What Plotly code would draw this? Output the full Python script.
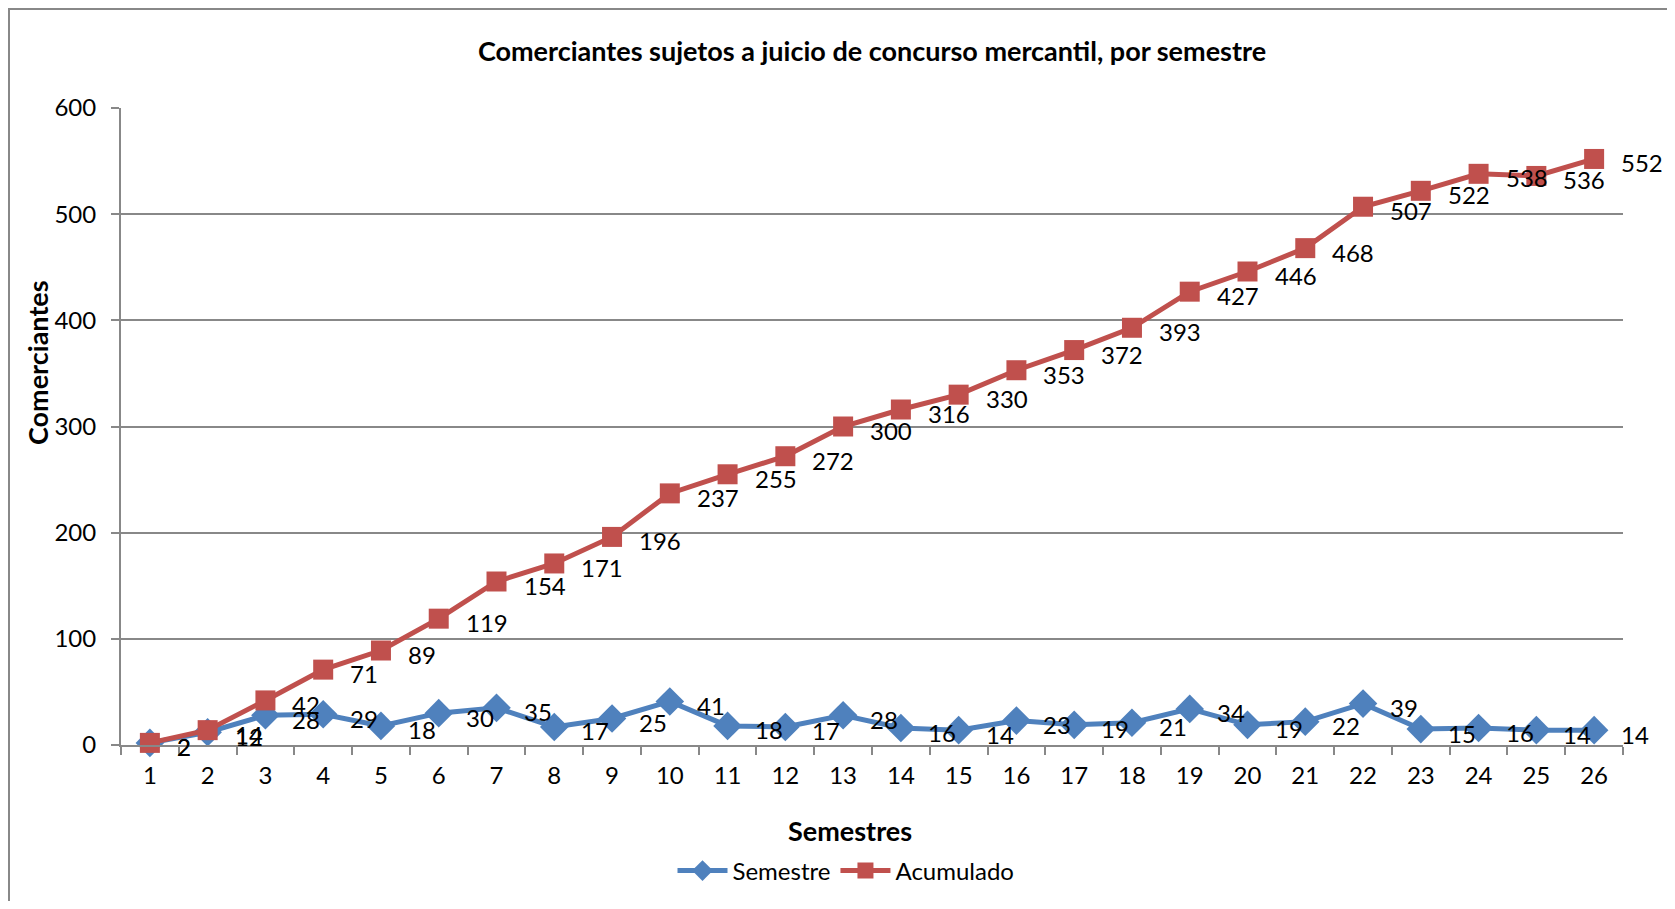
import plotly.graph_objects as go

semestres = [str(i) for i in range(1, 27)]
semestre_vals = [2, 12, 28, 29, 18, 30, 35, 17, 25, 41, 18, 17, 28, 16, 14, 23, 19, 21, 34, 19, 22, 39, 15, 16, 14, 14]
acumulado_vals = [2, 14, 42, 71, 89, 119, 154, 171, 196, 237, 255, 272, 300, 316, 330, 353, 372, 393, 427, 446, 468, 507, 522, 538, 536, 552]

# page body has an 8px margin: figure coords = reference coords - 8
OFF = 8
W, H = 1675 - 2 * OFF, 909 - 2 * OFF
L, R, T, B = 121 - OFF, 1623 - OFF, 108 - OFF, 745 - OFF
pw, ph = R - L, B - T


def px(x):
    return (x - OFF - L) / pw


def py(y):
    return (B - (y - OFF)) / ph


FONT = "Lato"
BLUE = "#4F81BD"
RED = "#C0504D"
GRID = "#888888"
LBL = 24

fig = go.Figure()
fig.add_trace(go.Scatter(
    x=semestres, y=semestre_vals, name="Semestre", mode="lines+markers",
    line=dict(color=BLUE, width=5),
    marker=dict(symbol="diamond", size=22, color=BLUE),
    cliponaxis=False,
))
fig.add_trace(go.Scatter(
    x=semestres, y=acumulado_vals, name="Acumulado", mode="lines+markers",
    line=dict(color=RED, width=5),
    marker=dict(symbol="square", size=20, color=RED),
    cliponaxis=False,
))

annotations = []
for vals in (semestre_vals, acumulado_vals):
    for idx, v in enumerate(vals):
        # on a category axis, annotation x is the category index
        annotations.append(dict(
            x=idx, y=v, xref="x", yref="y", text=str(v), showarrow=False,
            xanchor="left", yanchor="middle", xshift=25, yshift=-4,
            font=dict(family=FONT, size=LBL, color="#000000"),
        ))

annotations += [
    dict(text="<b>Semestres</b>", x=px(850), y=py(830), xref="paper", yref="paper",
         showarrow=False, xanchor="center", yanchor="middle",
         font=dict(family=FONT, size=27, color="#000000")),
    dict(text="<b>Comerciantes</b>", x=px(37), y=py(363), xref="paper", yref="paper",
         showarrow=False, xanchor="center", yanchor="middle", textangle=-90,
         font=dict(family=FONT, size=27, color="#000000")),
]

fig.update_layout(
    width=W, height=H,
    margin=dict(l=L, r=W - R, t=T, b=H - B, autoexpand=False),
    paper_bgcolor="white", plot_bgcolor="white",
    font=dict(family=FONT, size=LBL, color="#000000"),
    title=dict(text="<b>Comerciantes sujetos a juicio de concurso mercantil, por semestre</b>",
               x=0.5, xref="paper", y=1 - (52 - OFF) / H, yref="container", yanchor="middle",
               xanchor="center", font=dict(family=FONT, size=27, color="#000000")),
    showlegend=True,
    legend=dict(orientation="h", x=px(846), xanchor="center", y=py(871), yanchor="middle",
                font=dict(family=FONT, size=LBL), itemwidth=50, traceorder="normal"),
    xaxis=dict(type="category", range=[-0.5, 25.5], tickson="boundaries", ticks="outside",
               ticklen=8, tickwidth=2, tickcolor=GRID, showline=True, linecolor=GRID, linewidth=2,
               showgrid=False, tickfont=dict(family=FONT, size=LBL), ticklabelstandoff=8,
               fixedrange=True),
    yaxis=dict(range=[0, 600], dtick=100, ticks="outside", ticklen=8, tickwidth=2, tickcolor=GRID,
               showline=True, linecolor=GRID, linewidth=2, showgrid=True, gridcolor=GRID, gridwidth=2,
               zeroline=False, tickfont=dict(family=FONT, size=LBL), ticklabelstandoff=10,
               fixedrange=True),
    annotations=annotations,
    shapes=[
        dict(type="line", xref="paper", yref="paper", x0=px(8), x1=px(1700), y0=py(9), y1=py(9),
             line=dict(color=GRID, width=2)),
        dict(type="line", xref="paper", yref="paper", x0=px(9), x1=px(9), y0=py(9), y1=py(950),
             line=dict(color=GRID, width=2)),
    ],
)

fig.write_html("out.html")
